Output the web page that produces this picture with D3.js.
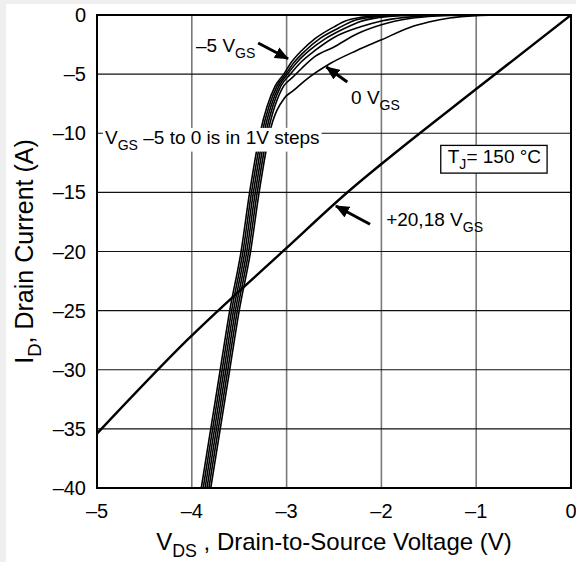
<!DOCTYPE html>
<html>
<head>
<meta charset="utf-8">
<script src="https://cdn.jsdelivr.net/npm/d3@7"></script>
<style>
  body { margin: 0; background: #fff; }
  svg { display: block; font-family: "Liberation Sans", Arial, sans-serif; }
</style>
</head>
<body>
<svg id="figure" width="576" height="562"></svg>
<script>
// axis ticks
const xTicks = [-5, -4, -3, -2, -1, 0];
const yTicks = [0, -5, -10, -15, -20, -25, -30, -35, -40];

// curves, [V_DS, I_D]
const vgsM5 = [[-3.90,-40],[-3.80,-35],[-3.70,-30],[-3.60,-25],[-3.48,-20],[-3.39,-15],[-3.28,-10],[-3.12,-6],[-3.03,-5],[-2.95,-4],[-2.84,-3],[-2.70,-2],[-2.50,-1],[-2.38,-0.5],[-2.22,-0.2],[-2.0,-0.05],[-1.6,0]];
const vgsM4 = [[-3.88,-40],[-3.78,-35],[-3.68,-30],[-3.58,-25],[-3.46,-20],[-3.37,-15],[-3.26,-10],[-3.10,-6],[-3.01,-5],[-2.92,-4],[-2.80,-3],[-2.65,-2],[-2.45,-1.1],[-2.30,-0.5],[-2.12,-0.2],[-1.9,-0.05],[-1.5,0]];
const vgsM3 = [[-3.86,-40],[-3.76,-35],[-3.66,-30],[-3.56,-25],[-3.44,-20],[-3.35,-15],[-3.24,-10],[-3.08,-6],[-2.99,-5],[-2.89,-4],[-2.76,-3],[-2.59,-2],[-2.38,-1.1],[-2.22,-0.55],[-2.02,-0.2],[-1.8,-0.05],[-1.4,0]];
const vgsM2 = [[-3.84,-40],[-3.74,-35],[-3.64,-30],[-3.54,-25],[-3.42,-20],[-3.33,-15],[-3.22,-10],[-3.06,-6],[-2.96,-5],[-2.85,-4],[-2.70,-3],[-2.50,-1.9],[-2.22,-1],[-2.0,-0.5],[-1.75,-0.2],[-1.5,-0.05],[-1.2,0]];
const vgsM1 = [[-3.82,-40],[-3.72,-35],[-3.62,-30],[-3.52,-25],[-3.40,-20],[-3.31,-15],[-3.20,-10],[-3.03,-6],[-2.94,-5.3],[-2.84,-4.5],[-2.70,-3.5],[-2.50,-2.7],[-2.26,-1.6],[-2.0,-0.82],[-1.7,-0.3],[-1.4,-0.08],[-1.1,0]];
const vgs0 = [[-3.80,-40],[-3.70,-35],[-3.60,-30],[-3.50,-25],[-3.38,-20],[-3.29,-15],[-3.18,-10],[-3.02,-7],[-2.93,-6.4],[-2.80,-5.5],[-2.54,-4.1],[-2.26,-3.0],[-2.0,-2.1],[-1.7,-1.05],[-1.5,-0.6],[-1.28,-0.25],[-1.0,-0.05],[-0.8,0]];
const vgsOn = [[-5,-35.4],[-4.05,-27.5],[-3.0,-19.7],[-2.33,-14.8],[-2,-12.6],[-1,-6.26],[0,0]];

const margin = {top: 15, right: 5, bottom: 74, left: 97};
const width = 576 - margin.left - margin.right;
const height = 562 - margin.top - margin.bottom;

const svg = d3.select("#figure");

// light grey strips on the edges of the scan
svg.append("rect").attr("x", 0).attr("y", 0).attr("width", 576).attr("height", 4).attr("fill", "#efefef");
svg.append("rect").attr("x", 0).attr("y", 0).attr("width", 6).attr("height", 562).attr("fill", "#efefef");

const g = svg.append("g")
    .attr("transform", "translate(" + margin.left + "," + margin.top + ")");

const x = d3.scaleLinear().domain([-5, 0]).range([0, width]);
const y = d3.scaleLinear().domain([-40, 0]).range([height, 0]);

// grid
g.append("g").selectAll("line").data(xTicks.slice(1, -1)).join("line")
    .attr("x1", d => x(d)).attr("x2", d => x(d))
    .attr("y1", 0).attr("y2", height)
    .attr("stroke", "#7a7a7a").attr("stroke-width", 1.6);
g.append("g").selectAll("line").data(yTicks.slice(1, -1)).join("line")
    .attr("x1", 0).attr("x2", width)
    .attr("y1", d => y(d)).attr("y2", d => y(d))
    .attr("stroke", "#111").attr("stroke-width", 1.2);

// tick labels
const fmt = d => d < 0 ? "\u2013" + Math.abs(d) : String(d);
g.append("g").selectAll("text").data(xTicks).join("text")
    .attr("x", d => x(d)).attr("y", height + 30)
    .attr("text-anchor", "middle").attr("font-size", 20)
    .text(fmt);
g.append("g").selectAll("text").data(yTicks).join("text")
    .attr("x", -11).attr("y", d => y(d) + 7)
    .attr("text-anchor", "end").attr("font-size", 20)
    .text(fmt);

// curves
svg.append("defs").append("clipPath").attr("id", "plot")
    .append("rect").attr("width", width).attr("height", height);

const line = d3.line()
    .x(d => x(d[0])).y(d => y(d[1]))
    .curve(d3.curveMonotoneX);

const curves = g.append("g").attr("clip-path", "url(#plot)");
[vgsM5, vgsM4, vgsM3, vgsM2, vgsM1, vgs0].forEach(s => {
    curves.append("path").datum(s)
        .attr("d", line).attr("fill", "none")
        .attr("stroke", "#000").attr("stroke-width", 1.6);
});
curves.append("path").datum(vgsOn)
    .attr("d", line).attr("fill", "none")
    .attr("stroke", "#000").attr("stroke-width", 2.4);

// frame
g.append("rect").attr("width", width).attr("height", height)
    .attr("fill", "none").attr("stroke", "#000").attr("stroke-width", 2);

// arrow head
svg.select("defs").append("marker")
    .attr("id", "head").attr("markerUnits", "userSpaceOnUse")
    .attr("viewBox", "0 0 14 12").attr("refX", 13).attr("refY", 6)
    .attr("markerWidth", 14).attr("markerHeight", 12).attr("orient", "auto")
    .append("path").attr("d", "M0,0L14,6L0,12Z").attr("fill", "#000");

function arrow(from, to) {
    g.append("line")
        .attr("x1", x(from[0])).attr("y1", y(from[1]))
        .attr("x2", x(to[0])).attr("y2", y(to[1]))
        .attr("stroke", "#000").attr("stroke-width", 3)
        .attr("marker-end", "url(#head)");
}

// text with a subscript part
function label(parent, px, py, parts, size) {
    const t = parent.append("text").attr("x", px).attr("y", py).attr("font-size", size);
    parts.forEach(p => {
        const ts = t.append("tspan").text(p[0]);
        if (p[1]) ts.attr("font-size", size * 0.74).attr("dy", size * 0.3);
        else if (p[2]) ts.attr("dy", -size * 0.3);
    });
    return t;
}

arrow([-3.30, -2.37], [-2.985, -3.70]);
label(g, x(-3.956), y(-3.13), [["\u20135 V"], ["GS", true]], 19);

arrow([-2.36, -5.67], [-2.58, -4.40]);
label(g, x(-2.32), y(-7.53), [["0 V"], ["GS", true]], 19);

arrow([-2.12, -17.7], [-2.48, -16.15]);
label(g, x(-1.95), y(-17.84), [["+20,18 V"], ["GS", true]], 19);

// steps note on a white box
const note = label(g, x(-4.916), y(-10.9), [["V"], ["GS", true], [" \u20135 to 0 is in 1V steps", false, true]], 19);
const nb = note.node().getBBox();
g.append("rect")
    .attr("x", nb.x - 2).attr("y", nb.y + 1).attr("width", nb.width + 4).attr("height", nb.height - 2)
    .attr("fill", "#fff");
note.raise();

// junction temperature box
const tj = label(g, x(-1.30), y(-12.55), [["T"], ["J", true], ["= 150 \u00b0C", false, true]], 19);
const tb = tj.node().getBBox();
g.append("rect")
    .attr("x", tb.x - 7).attr("y", tb.y - 1).attr("width", tb.width + 13).attr("height", tb.height + 2)
    .attr("fill", "#fff").attr("stroke", "#000").attr("stroke-width", 1.3);
tj.raise();

// axis titles
label(svg, 0, 0, [["V"], ["DS", true], [" , Drain-to-Source Voltage (V)", false, true]], 24)
    .attr("x", margin.left + width / 2).attr("y", 550).attr("text-anchor", "middle");
label(svg, 0, 0, [["I"], ["D", true], [", Drain Current (A)", false, true]], 25)
    .attr("text-anchor", "middle")
    .attr("transform", "translate(33," + (margin.top + height / 2) + ") rotate(-90)");
</script>
</body>
</html>
